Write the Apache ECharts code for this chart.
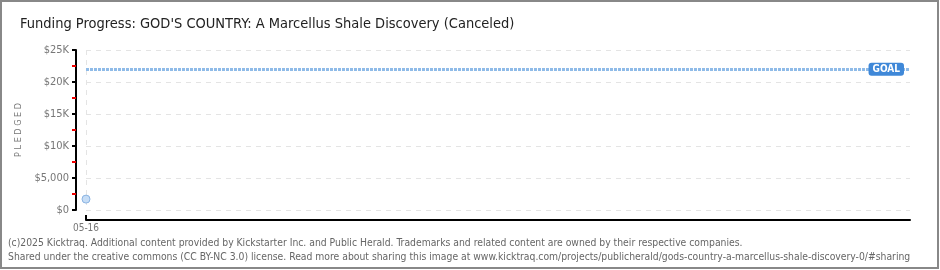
<!DOCTYPE html>
<html><head><meta charset="utf-8">
<script src="https://cdn.jsdelivr.net/npm/echarts@6/dist/echarts.min.js"></script>
<style>html,body{margin:0;padding:0;background:#fff}#c{width:940px;height:270px}</style>
</head><body><div id="c"></div>
<script>
const categories = ['05-16'];
const pledged = [1700];
const goal = 22000;
const yTicks = ['$0','$5,000','$10K','$15K','$20K','$25K'];
const titleText = "Funding Progress: GOD'S COUNTRY: A Marcellus Shale Discovery (Canceled)";
const footer1 = "(c)2025 Kicktraq. Additional content provided by Kickstarter Inc. and Public Herald. Trademarks and related content are owned by their respective companies.";
const footer2 = "Shared under the creative commons (CC BY-NC 3.0) license. Read more about sharing this image at www.kicktraq.com/projects/publicherald/gods-country-a-marcellus-shale-discovery-0/#sharing";

const points = pledged.map((v, i) => [i, v]);
const chart = echarts.init(document.getElementById('c'));
chart.setOption({
  animation: false,
  title: { text: titleText, left: 15, top: 12, textStyle: { fontFamily: 'DejaVu Sans Condensed', fontWeight: 'normal', fontSize: 14.5, color: '#222' } },
  grid: { left: 86, right: 30, top: 50, bottom: 60 },
  xAxis: {
    type: 'value', min: 0, max: 1, offset: 10,
    axisLine: { onZero: false, lineStyle: { color: '#000', width: 2 } },
    axisTick: { show: true, inside: true, length: 5, customValues: [0], lineStyle: { color: '#000', width: 2 } },
    axisLabel: { color: '#777', fontFamily: 'DejaVu Sans Condensed', fontSize: 10, margin: 3, customValues: [0],
      formatter: v => categories[Math.round(v)] || '' },
    splitLine: { show: true, lineStyle: { color: '#e4e4e4', type: [5, 5] } }
  },
  yAxis: {
    type: 'value', min: 0, max: 25000, interval: 5000, offset: 10,
    name: 'P L E D G E D', nameLocation: 'middle', nameGap: 52, nameRotate: 90,
    nameTextStyle: { color: '#777', fontFamily: 'DejaVu Sans Condensed', fontSize: 9 },
    axisLine: { show: true, onZero: false, lineStyle: { color: '#000', width: 2 } },
    axisTick: { show: true, length: 4, lineStyle: { color: '#000', width: 2 } },
    minorTick: { show: true, splitNumber: 2, length: 4, lineStyle: { color: '#e00', width: 2 } },
    axisLabel: { color: '#777', fontFamily: 'DejaVu Sans Condensed', fontSize: 11, margin: 7,
      formatter: v => yTicks[Math.round(v / 5000)] },
    splitLine: { show: true, lineStyle: { color: '#e4e4e4', type: [5, 5] } }
  },
  series: [{
    type: 'line', data: points, symbol: 'circle', symbolSize: 8,
    itemStyle: { color: '#c6ddf6', borderColor: '#8ab3e2', borderWidth: 1 },
    lineStyle: { color: '#8ab3e2' },
    markLine: {
      silent: true, symbol: 'none',
      lineStyle: { color: '#8fbbe8', type: [3, 1], width: 3 },
      label: { show: true, position: 'insideEnd', formatter: 'GOAL', color: '#fff', fontWeight: 'bold',
        fontFamily: 'DejaVu Sans Condensed', fontSize: 10, backgroundColor: '#3f88d8', borderRadius: 3,
        padding: [2, 4, 1, 4], distance: 6 },
      data: [{ yAxis: goal }]
    }
  }],
  graphic: [
    { type: 'rect', shape: { x: 1, y: 1, width: 937, height: 267 }, style: { fill: 'none', stroke: '#888', lineWidth: 2 }, silent: true },
    { type: 'text', left: 8, top: 238, style: { text: footer1, fill: '#666', font: '10.3px "DejaVu Sans Condensed"' } },
    { type: 'text', left: 8, top: 252, style: { text: footer2, fill: '#666', font: '10.3px "DejaVu Sans Condensed"' } }
  ]
});
</script></body></html>
